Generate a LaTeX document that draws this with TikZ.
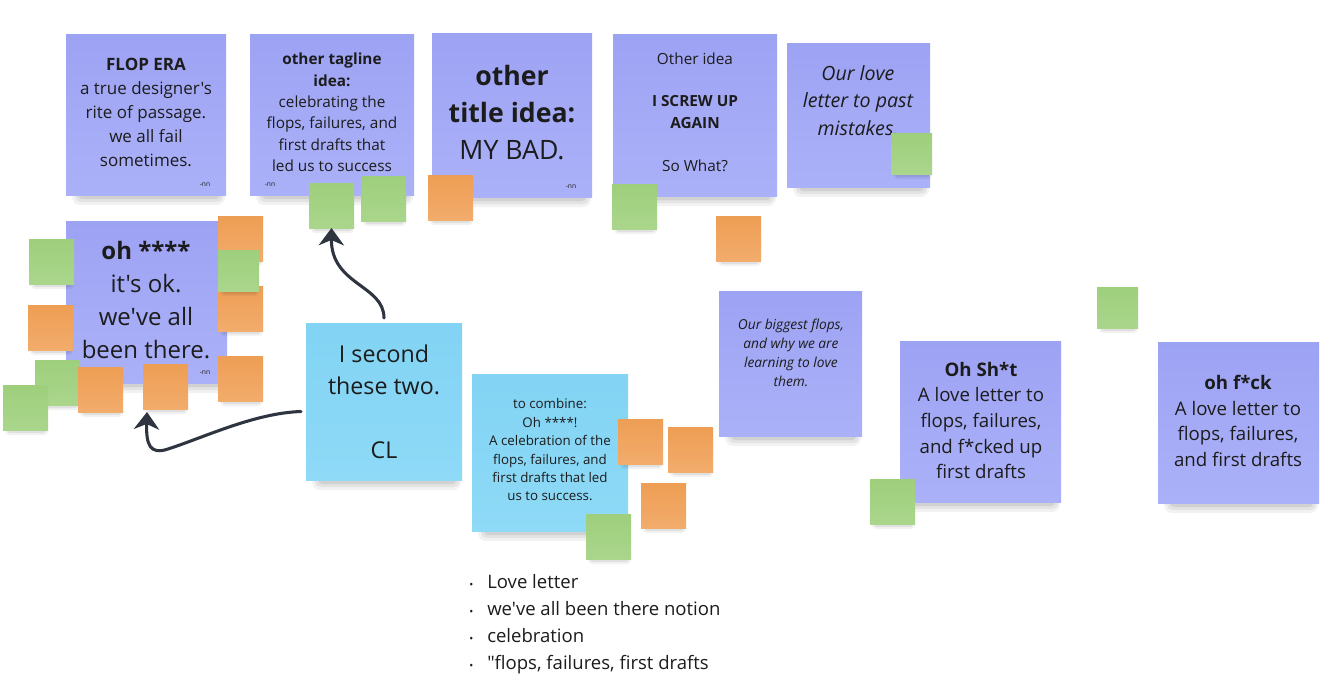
\documentclass[tikz,border=0pt]{standalone}
\usepackage{fontspec}
\setmainfont{Open Sans}[Ligatures=TeXOff]
\usetikzlibrary{arrows.meta}
\definecolor{lavT}{HTML}{9DA3F3}
\definecolor{lavB}{HTML}{ABB1F8}
\definecolor{bluT}{HTML}{82D3F4}
\definecolor{bluB}{HTML}{8EDAF7}
\definecolor{grnT}{HTML}{9ECF7C}
\definecolor{grnB}{HTML}{AAD68C}
\definecolor{orgT}{HTML}{EE9E54}
\definecolor{orgB}{HTML}{F2AC6C}
\definecolor{ink}{HTML}{1C1C1C}
\definecolor{arr}{HTML}{2F3540}
\newcommand\fs[2]{\fontsize{#1}{#2}\selectfont}
\newcommand\nshadow[3]{% x1, x2, ybottom
  \fill[black,opacity=0.05,rounded corners=6pt] (#1+6,#3-20) rectangle (#2-1,#3+10);
  \fill[black,opacity=0.06,rounded corners=4pt] (#1+9,#3-20) rectangle (#2-3,#3+7);
  \fill[black,opacity=0.08,rounded corners=3pt] (#1+12,#3-20) rectangle (#2-6,#3+4);
}
\newcommand\sshadow[3]{% x, y, size
  \fill[black,opacity=0.05,rounded corners=3pt] (#1+2,#2+#3-10) rectangle (#1+#3,#2+#3+5);
  \fill[black,opacity=0.07,rounded corners=2pt] (#1+4,#2+#3-10) rectangle (#1+#3-2,#2+#3+3);
}
\tikzset{
  x=0.75pt, y=-0.75pt,
  base/.style={inner sep=0pt, outer sep=0pt, anchor=north west, draw=none},
  lav/.style={base, top color=lavT, bottom color=lavB},
  blu/.style={base, top color=bluT, bottom color=bluB},
  grn/.style={base, top color=grnT, bottom color=grnB, minimum width=#1*0.75pt, minimum height=#1*0.75pt},
  grn/.default=45,
  org/.style={base, top color=orgT, bottom color=orgB, minimum width=#1*0.75pt, minimum height=#1*0.75pt},
  org/.default=45,
  txt/.style={text=ink, align=center, inner sep=0pt},
  nn/.style={text=ink, font=\fs{5}{6}, inner sep=0pt},
  link/.style={draw=arr, line width=2.3pt, line cap=round, -{Stealth[length=13pt,width=19pt,inset=4pt]}},
}
\newcommand\sq[5][45]{% [size] style name x y
  \sshadow{#4}{#5}{#1}
  \node[#2=#1] (#3) at (#4,#5) {};
}
\newcommand\bul{\makebox[13.5pt][l]{\fs{8}{8}•}}
\begin{document}
\begin{tikzpicture}
\useasboundingbox[fill=white] (0,0) rectangle (1342,696);

% ---- notes ----
\nshadow{66}{226}{195}
\node[lav, minimum width=120pt, minimum height=120.75pt] (flop) at (66,34) {};
\nshadow{250}{414}{195}
\node[lav, minimum width=123pt, minimum height=120.75pt] (tag) at (250,34) {};
\nshadow{432}{592}{197}
\node[lav, minimum width=120pt, minimum height=123pt] (title) at (432,33) {};
\nshadow{613}{777}{196}
\node[lav, minimum width=123pt, minimum height=121.5pt] (other) at (613,34) {};
\nshadow{787}{930}{187}
\node[lav, minimum width=107.25pt, minimum height=108pt] (love) at (787,43) {};
\nshadow{66}{227}{383}
\node[lav, minimum width=120.75pt, minimum height=121.5pt] (ohs) at (66,221) {};
\nshadow{306}{462}{480}
\node[blu, minimum width=117pt, minimum height=117.75pt] (second) at (306,323) {};
\nshadow{472}{628}{531}
\node[blu, minimum width=117pt, minimum height=117.75pt] (comb) at (472,374) {};
\nshadow{719}{862}{436}
\node[lav, minimum width=107.25pt, minimum height=108.75pt] (big) at (719,291) {};
\nshadow{900}{1061}{502}
\node[lav, minimum width=120.75pt, minimum height=120.75pt] (sht) at (900,341) {};
\nshadow{1158}{1319}{503}
\node[lav, minimum width=120.75pt, minimum height=120.75pt] (fck) at (1158,342) {};

% ---- note texts ----
\node[txt, font=\fs{12.75}{18}] (flopt) at (146,112.5) {{\bfseries FLOP ERA}\\a true designer's\\rite of passage.\\we all fail\\sometimes.};
\node[nn] (flopn) at (205,185) {-nn};
\node[txt, font=\fs{11.5}{16.1}] (tagt) at (332,112.5) {{\bfseries other tagline}\\{\bfseries idea:}\\celebrating the\\flops, failures, and\\first drafts that\\led us to success};
\node[nn] (tagn) at (270,185) {-nn};
\node[txt, font=\fs{20}{28}] (titlet) at (512,112.5) {{\bfseries other}\\{\bfseries title idea:}\\MY BAD.};
\node[nn] (titlen) at (571,187) {-nn};
\node[txt, font=\fs{11.5}{16.1}] (othert) at (695,112) {Other idea\\[16.1pt]{\bfseries I SCREW UP}\\{\bfseries AGAIN}\\[16.1pt]So What?};
\node[txt, font=\fs{14.7}{20.6}\itshape] (lovet) at (858,100.5) {Our love\\letter to past\\mistakes.};
\node[txt, font=\fs{18}{24.75}] (ohst) at (146,300.5) {{\bfseries oh ****}\\it's ok.\\we've all\\been there.};
\node[nn] (ohsn) at (205,373) {-nn};
\node[txt, font=\fs{17.4}{24}] (secondt) at (384,401.5) {I second\\these two.\\[24pt]CL};
\node[txt, font=\fs{10}{13.8}] (combt) at (550,450) {to combine:\\Oh ****!\\A celebration of the\\flops, failures, and\\first drafts that led\\us to success.};
\node[txt, font=\fs{10.3}{14.25}\itshape] (bigt) at (791,352.5) {Our biggest flops,\\and why we are\\learning to love\\them.};
\node[txt, font=\fs{14}{19.3}] (shtt) at (981,420.5) {{\bfseries Oh Sh*t}\\A love letter to\\flops, failures,\\and f*cked up\\first drafts};
\node[txt, font=\fs{14}{19.3}] (fckt) at (1238,421) {{\bfseries oh f*ck}\\A love letter to\\flops, failures,\\and first drafts};

% ---- votes ----
\sq{grn}{g1}{309}{183}
\sq{grn}{g2}{361}{176}
\sq{org}{o1}{428}{175}
\sq{grn}{g3}{612}{184}
\sq{org}{o2}{716}{216}
\sq[41]{grn}{g4}{891}{133}
\sq{org}{o3}{218}{216}
\sq{org}{o4}{218}{286}
\sq[41]{grn}{g5}{218}{250}
\sq{grn}{g6}{29}{239}
\sq{org}{o5}{28}{305}
\sq{grn}{g7}{35}{360}
\sq{grn}{g8}{3}{385}
\sq{org}{o6}{78}{367}
\sq{org}{o7}{143}{364}
\sq{org}{o8}{218}{356}
\sq{org}{o9}{618}{419}
\sq{org}{o10}{668}{427}
\sq{org}{o11}{641}{483}
\sq{grn}{g9}{586}{514}
\sq{grn}{g10}{870}{479}
\sq[41]{grn}{g11}{1097}{287}

% ---- bullet list ----
\node[anchor=north west, inner sep=0pt, align=left, text=ink, font=\fs{13.9}{20.25}] (list) at (469,574)
 {\bul Love letter\\
  \bul we've all been there notion\\
  \bul celebration\\
  \bul "flops, failures, first drafts};

% ---- connectors ----
\coordinate (t2) at (147,412);
\draw[link] ([yshift=3.75pt]second.north) .. controls (384,285) and (331,285) .. (g1.south);
\draw[link] ([xshift=-3.75pt,yshift=-7.5pt]second.west) .. controls (255,413) and (205,437) .. (168,449) .. controls (150,455) and (146,445) .. (t2);
\end{tikzpicture}
\end{document}
